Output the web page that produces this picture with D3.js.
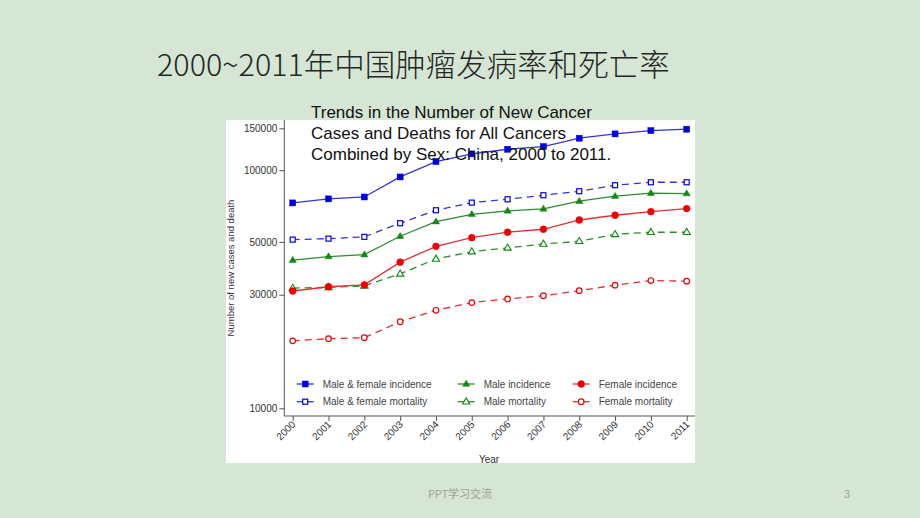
<!DOCTYPE html>
<html><head><meta charset="utf-8">
<script src="https://cdn.jsdelivr.net/npm/d3@7"></script>
<style>
html,body{margin:0;padding:0;background:#d5e6d4;}
svg{display:block;}
</style></head>
<body>
<svg id="c" width="920" height="518"></svg>
<script>
const years = [2000,2001,2002,2003,2004,2005,2006,2007,2008,2009,2010,2011];
const mfIncidence = [72900,75800,77200,93700,108700,117100,122500,125700,136300,142100,146700,148700];
const mfMortality = [51100,51600,52500,59900,67900,73100,75500,78500,81600,86500,89000,89000];
const maleIncidence = [41900,43400,44200,52800,60800,65300,67500,68800,74100,77800,80100,79800];
const femaleIncidence = [31100,32400,33000,41100,47900,52100,54900,56500,61800,64700,67000,69000];
const maleMortality = [32000,32200,32700,36700,42400,45500,47200,49000,50300,53800,54900,54900];
const femaleMortality = [19200,19600,19800,23100,25800,27800,28800,29700,31200,32900,34400,34200];
const yTicks = [10000,30000,50000,100000,150000];
const seriesNames = ["Male & female incidence","Male & female mortality","Male incidence","Male mortality","Female incidence","Female mortality"];
const pageTitle = "2000~2011年中国肿瘤发病率和死亡率";
const chartTitle = ["Trends in the Number of New Cancer","Cases and Deaths for All Cancers","Combined by Sex: China, 2000 to 2011."];

const series = [
  {name:seriesNames[0], values:mfIncidence, color:"#0000e8", line:"#3535d0", shape:"square", filled:true, dashed:false, col:0,row:0},
  {name:seriesNames[1], values:mfMortality, color:"#0000e8", line:"#3535d0", shape:"square", filled:false, dashed:true, col:0,row:1},
  {name:seriesNames[2], values:maleIncidence, color:"#108a10", line:"#2e8b2e", shape:"triangle", filled:true, dashed:false, col:1,row:0},
  {name:seriesNames[3], values:maleMortality, color:"#108a10", line:"#2e8b2e", shape:"triangle", filled:false, dashed:true, col:1,row:1},
  {name:seriesNames[4], values:femaleIncidence, color:"#ee0000", line:"#e53030", shape:"circle", filled:true, dashed:false, col:2,row:0},
  {name:seriesNames[5], values:femaleMortality, color:"#ee0000", line:"#e53030", shape:"circle", filled:false, dashed:true, col:2,row:1}
];

const svg = d3.select("#c");

// page title
svg.append("text").attr("x",157).attr("y",76)
  .attr("font-family","'Noto Sans CJK SC', sans-serif").attr("font-size",30.5)
  .attr("font-weight",300)
  .attr("fill","#262626").text(pageTitle);

// white panel
svg.append("rect").attr("x",226).attr("y",120).attr("width",469).attr("height",343).attr("fill","#ffffff");

const x = d3.scalePoint().domain(years).range([292.7,686.7]);
const y = d3.scaleLog().domain([10000,150000]).range([408.3,128.3]);

const font = "'Liberation Sans', Arial, sans-serif";

// y axis
const yAxis = svg.append("g").attr("transform","translate(284.3,0)")
  .call(d3.axisLeft(y).tickValues(yTicks).tickFormat(d3.format("d")).tickSize(5).tickSizeOuter(0));
yAxis.select(".domain").remove();
yAxis.append("line").attr("x1",0).attr("x2",0).attr("y1",120).attr("y2",416).attr("stroke","#555");
yAxis.selectAll(".tick line").attr("stroke","#555");
yAxis.selectAll(".tick text").attr("font-family",font).attr("font-size",10).attr("fill","#333").attr("x",-7);

// x axis
const xAxis = svg.append("g").attr("transform","translate(0,416)")
  .call(d3.axisBottom(x).tickSize(5).tickSizeOuter(0));
xAxis.select(".domain").remove();
xAxis.append("line").attr("x1",284.3).attr("x2",695).attr("y1",0).attr("y2",0).attr("stroke","#555");
xAxis.selectAll(".tick line").attr("stroke","#555");
xAxis.selectAll(".tick text").attr("font-family",font).attr("font-size",10).attr("fill","#333")
  .attr("text-anchor","end").attr("dy",0).attr("y",0)
  .attr("transform","translate(3,9) rotate(-45)");

// axis titles
svg.append("text").attr("x",489).attr("y",463).attr("text-anchor","middle")
  .attr("font-family",font).attr("font-size",10).attr("fill","#333").text("Year");
svg.append("text").attr("transform","translate(234,268) rotate(-90)").attr("text-anchor","middle")
  .attr("font-family",font).attr("font-size",9.5).attr("fill","#333").text("Number of new cases and death");

// lines
const line = d3.line().x((d,i)=>x(years[i])).y(d=>y(d));

function drawMarker(g, s, cx, cy) {
  const fill = s.filled ? s.color : "#ffffff";
  if (s.shape==="square") {
    const a = s.filled ? 6 : 5;
    g.append("rect").attr("x",cx-a/2).attr("y",cy-a/2).attr("width",a).attr("height",a)
      .attr("fill",fill).attr("stroke",s.color).attr("stroke-width",s.filled?0.5:1.2);
  } else if (s.shape==="triangle") {
    const r = 3.8;
    const p = [[cx,cy-r],[cx+r*0.95,cy+r*0.6],[cx-r*0.95,cy+r*0.6]];
    g.append("path").attr("d","M"+p.map(q=>q.join(",")).join("L")+"Z")
      .attr("fill",fill).attr("stroke",s.color).attr("stroke-width",s.filled?0.5:1.1);
  } else {
    g.append("circle").attr("cx",cx).attr("cy",cy).attr("r",s.filled?3.4:2.8)
      .attr("fill",fill).attr("stroke",s.color).attr("stroke-width",s.filled?0.5:1.2);
  }
}

series.forEach(s=>{
  svg.append("path").datum(s.values).attr("d",line)
    .attr("fill","none").attr("stroke",s.line).attr("stroke-width",1.3)
    .attr("stroke-dasharray",s.dashed?"7,5":null);
});
series.forEach(s=>{
  const g = svg.append("g");
  s.values.forEach((v,i)=>drawMarker(g,s,x(years[i]),y(v)));
});

// legend
const legCols = [296.7,457.7,572.7];
const legRows = [384,401.7];
series.forEach(s=>{
  const lx = legCols[s.col], ly = legRows[s.row];
  const g = svg.append("g");
  g.append("line").attr("x1",lx).attr("x2",lx+17).attr("y1",ly).attr("y2",ly)
    .attr("stroke",s.line).attr("stroke-width",1.3);
  drawMarker(g,s,lx+8.5,ly);
  g.append("text").attr("x",lx+26).attr("y",ly+3.5)
    .attr("font-family",font).attr("font-size",10).attr("fill","#444").text(s.name);
});

// chart title
chartTitle.forEach((t,i)=>{
  svg.append("text").attr("x",311).attr("y",117.5+i*21)
    .attr("font-family",font).attr("font-size",17).attr("fill","#111").text(t);
});

// footer
svg.append("text").attr("x",460).attr("y",498).attr("text-anchor","middle")
  .attr("font-family","'Noto Sans CJK SC', sans-serif").attr("font-size",11).attr("fill","#9aa59a").text("PPT学习交流");
svg.append("text").attr("x",847).attr("y",498).attr("text-anchor","middle")
  .attr("font-family","'Liberation Sans', sans-serif").attr("font-size",11).attr("fill","#9aa59a").text("3");
</script>
</body></html>
